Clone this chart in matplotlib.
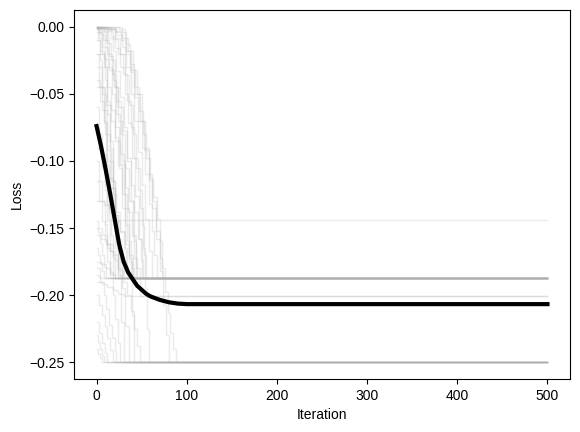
import matplotlib
matplotlib.use("Agg")
import matplotlib.pyplot as plt
import numpy as np

plt.rcParams['font.family'] = ['Liberation Sans', 'DejaVu Sans']
plt.rcParams['font.size'] = 10

n_iter = 500

# best-so-far loss of each run, stored as the points where it changes
run_iters = [
    # runs starting near zero
    [0, 2, 4, 6, 8, 10, 12, 14, 16, 18, 20],
    [0, 3, 6, 9, 12, 15, 18, 21, 24, 26],
    [0, 3, 6, 9, 12, 15, 18, 21, 24, 27, 30],
    [0, 5, 9, 13, 17, 21, 25, 28, 31, 34],
    [0, 6, 10, 14, 18, 22, 26, 30, 34, 38],
    [0, 8, 12, 16, 20, 24, 28, 32, 36, 39, 42],
    [0, 8, 13, 18, 22, 26, 30, 34, 38, 41, 44],
    [0, 7, 12, 17, 22, 27, 32, 36, 40, 44, 48],
    [0, 10, 16, 21, 26, 31, 35, 39, 43, 47, 50],
    [0, 12, 18, 24, 29, 34, 38, 42, 46, 50, 53, 55],
    [0, 14, 20, 26, 31, 36, 40, 44, 48, 51, 54, 56, 58],
    [0, 16, 22, 28, 33, 38, 42, 46, 50, 54, 58, 62],
    [0, 20, 27, 32, 37, 42, 46, 50, 54, 58, 61, 64, 67],
    [0, 25, 31, 35, 40, 45, 50, 54, 58, 62, 66, 70, 73],
    [0, 22, 28, 33, 38, 43, 48, 53, 58, 62, 66, 70, 74, 77, 80],
    [0, 28, 33, 37, 42, 47, 51, 55, 59, 63, 67, 70, 73, 76, 79, 82, 85, 88],
    # runs starting lower
    [0, 4, 8, 12, 16, 20, 24, 28, 32, 36, 40],
    [0, 3, 6, 9, 12, 15, 18, 21, 24, 27, 30],
    [0, 8, 14, 19, 24, 29, 34, 38, 42, 46, 49, 52],
    [0, 3, 6, 9, 12, 15, 18, 21, 24],
    [0, 4, 8, 12, 16, 20, 24, 28, 32, 36],
    [0, 6, 11, 16, 21, 26, 31, 35, 39, 42, 45],
    [0, 3, 6, 9, 12, 15, 18],
    [0, 3, 6, 9, 12, 14],
    [0, 5, 10, 14, 18, 22, 26, 30, 33, 35],
    [0, 3, 6, 9, 12, 15, 18, 21, 24, 26],
    [0, 3, 6, 9, 12, 15],
    [0, 8, 14, 20, 26, 31, 36, 39, 42],
    [0, 2, 4, 6, 8, 10],
    [0, 6, 12, 18, 24, 29, 34, 38, 42, 45, 48],
    [0, 5, 10, 15, 20, 24, 28],
    [0, 2, 4, 6, 8],
    [0, 5, 10, 15, 20],
    [0, 4, 8, 11, 14, 17, 20, 22],
    [0, 2, 4],
    [0, 6, 12, 18, 24, 30],
    [0, 3, 6, 9, 12, 15, 18],
    [0, 3, 6, 9, 12],
    [0, 2, 4, 6, 8],
    [0, 2, 4, 6],
]
run_loss = [
    [0.0, -0.01, -0.025, -0.045, -0.07, -0.095, -0.115, -0.135, -0.155, -0.172, -0.187],
    [-0.001, -0.008, -0.02, -0.04, -0.065, -0.09, -0.12, -0.15, -0.172, -0.187],
    [0.0, -0.005, -0.015, -0.03, -0.055, -0.085, -0.115, -0.15, -0.185, -0.22, -0.25],
    [-0.002, -0.006, -0.015, -0.03, -0.05, -0.075, -0.105, -0.135, -0.165, -0.187],
    [0.0, -0.003, -0.01, -0.022, -0.04, -0.065, -0.095, -0.125, -0.16, -0.187],
    [-0.001, -0.004, -0.012, -0.025, -0.045, -0.07, -0.1, -0.135, -0.175, -0.215, -0.25],
    [0.0, -0.002, -0.008, -0.018, -0.033, -0.052, -0.075, -0.1, -0.13, -0.16, -0.187],
    [-0.004, -0.01, -0.02, -0.035, -0.055, -0.08, -0.105, -0.13, -0.155, -0.18, -0.201],
    [0.0, -0.002, -0.007, -0.016, -0.03, -0.05, -0.072, -0.098, -0.126, -0.158, -0.187],
    [-0.001, -0.003, -0.009, -0.02, -0.035, -0.055, -0.075, -0.098, -0.122, -0.148, -0.17, -0.187],
    [0.0, -0.002, -0.008, -0.02, -0.036, -0.058, -0.08, -0.105, -0.135, -0.165, -0.195, -0.225, -0.25],
    [0.0, -0.002, -0.006, -0.015, -0.03, -0.05, -0.07, -0.093, -0.118, -0.143, -0.167, -0.187],
    [-0.002, -0.004, -0.01, -0.02, -0.034, -0.052, -0.07, -0.09, -0.11, -0.132, -0.152, -0.17, -0.187],
    [0.0, -0.002, -0.008, -0.018, -0.032, -0.05, -0.07, -0.09, -0.11, -0.13, -0.152, -0.172, -0.187],
    [-0.001, -0.003, -0.008, -0.018, -0.032, -0.05, -0.07, -0.092, -0.114, -0.135, -0.158, -0.182,
     -0.207, -0.23, -0.25],
    [0.0, -0.004, -0.013, -0.028, -0.045, -0.063, -0.08, -0.098, -0.113, -0.127, -0.143, -0.16,
     -0.18, -0.198, -0.213, -0.228, -0.24, -0.25],
    [-0.01, -0.018, -0.03, -0.045, -0.062, -0.082, -0.103, -0.125, -0.148, -0.17, -0.187],
    [-0.02, -0.03, -0.045, -0.062, -0.08, -0.1, -0.12, -0.14, -0.158, -0.175, -0.187],
    [-0.02, -0.024, -0.032, -0.045, -0.06, -0.078, -0.098, -0.118, -0.138, -0.158, -0.174, -0.187],
    [-0.03, -0.045, -0.062, -0.08, -0.1, -0.12, -0.142, -0.165, -0.187],
    [-0.04, -0.055, -0.072, -0.092, -0.115, -0.14, -0.167, -0.195, -0.223, -0.25],
    [-0.045, -0.05, -0.058, -0.07, -0.085, -0.102, -0.12, -0.138, -0.156, -0.172, -0.187],
    [-0.06, -0.08, -0.1, -0.122, -0.145, -0.167, -0.187],
    [-0.075, -0.09, -0.105, -0.118, -0.132, -0.144],
    [-0.09, -0.095, -0.103, -0.113, -0.125, -0.138, -0.152, -0.166, -0.178, -0.187],
    [-0.1, -0.115, -0.13, -0.147, -0.165, -0.183, -0.2, -0.218, -0.236, -0.25],
    [-0.115, -0.13, -0.145, -0.16, -0.175, -0.187],
    [-0.13, -0.133, -0.138, -0.145, -0.153, -0.162, -0.172, -0.18, -0.187],
    [-0.145, -0.153, -0.161, -0.17, -0.179, -0.187],
    [-0.15, -0.155, -0.162, -0.17, -0.18, -0.19, -0.2, -0.212, -0.225, -0.238, -0.25],
    [-0.155, -0.158, -0.162, -0.167, -0.174, -0.181, -0.187],
    [-0.165, -0.17, -0.176, -0.182, -0.187],
    [-0.175, -0.177, -0.18, -0.184, -0.187],
    [-0.18, -0.19, -0.2, -0.21, -0.222, -0.232, -0.242, -0.25],
    [-0.185, -0.186, -0.187],
    [-0.19, -0.192, -0.194, -0.196, -0.199, -0.201],
    [-0.2, -0.207, -0.215, -0.223, -0.232, -0.241, -0.25],
    [-0.22, -0.228, -0.236, -0.243, -0.25],
    [-0.23, -0.235, -0.24, -0.245, -0.25],
    [-0.24, -0.244, -0.247, -0.25],
]

# mean loss over runs
mean_iters = [0, 5, 10, 15, 20, 25, 30, 35, 40, 45, 50, 55, 60, 70, 80, 90, 100, 500]
mean_loss = [-0.074, -0.089, -0.106, -0.124, -0.143, -0.162, -0.175, -0.183, -0.188,
             -0.193, -0.196, -0.199, -0.201, -0.2035, -0.2053, -0.2063, -0.2067, -0.2067]

fig = plt.figure(figsize=(5.8, 4.32), dpi=100)
ax = fig.add_subplot(111)
fig.subplots_adjust(left=74/580, right=570/580, bottom=1-379/432, top=1-10/432)

for it, ls in zip(run_iters, run_loss):
    ax.step(it + [n_iter], ls + [ls[-1]], where='post', color='#b0b0b0', alpha=0.25, lw=1)

ax.plot(mean_iters, mean_loss, color='k', lw=3)

ax.set_xlabel('Iteration')
ax.set_ylabel('Loss')
ax.set_yticks([0.0, -0.05, -0.10, -0.15, -0.20, -0.25])

fig.savefig('out.png', dpi=100)
